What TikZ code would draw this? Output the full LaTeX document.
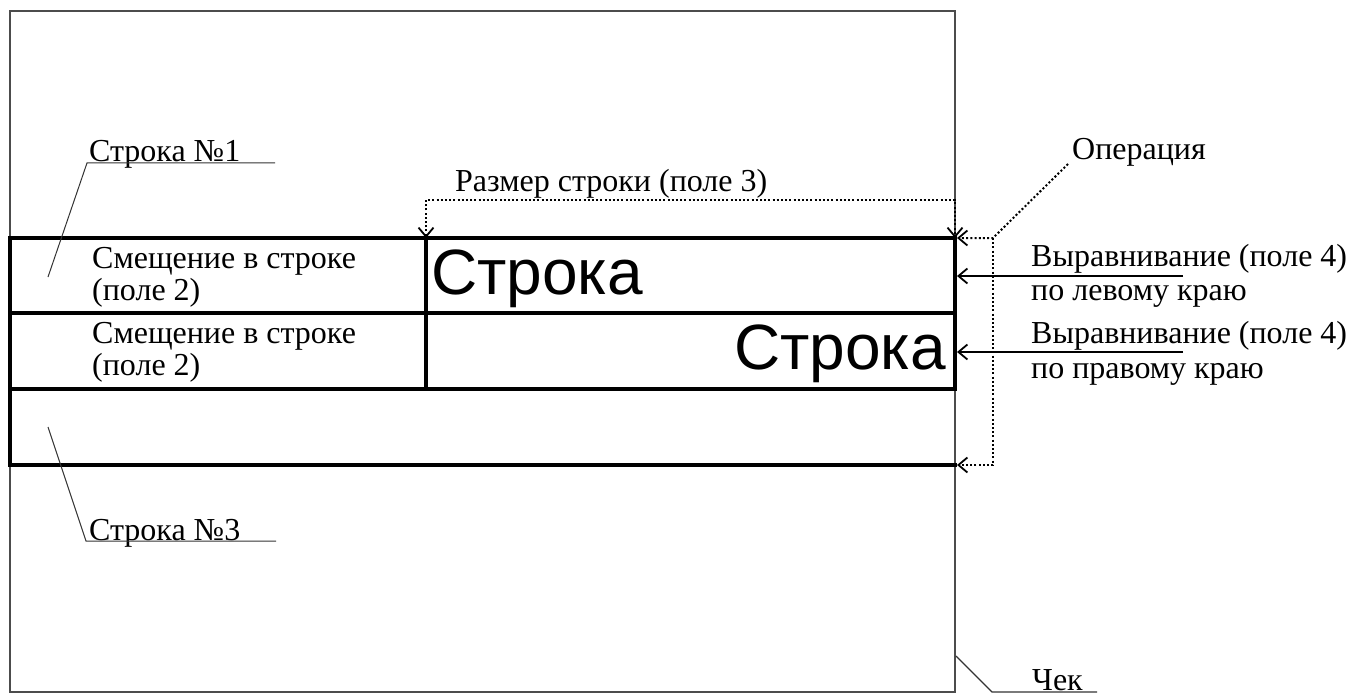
\documentclass[tikz,border=0pt]{standalone}
\usepackage{fontspec}
\setmainfont{Liberation Serif}
\newfontfamily\arialf{Liberation Sans}
\usetikzlibrary{arrows.meta}
\begin{document}
\begin{tikzpicture}[x=1pt,y=-1pt,
  lbl/.style={inner sep=0pt,anchor=base west,font=\fontsize{32}{36}\selectfont},
  big/.style={inner sep=0pt,font=\arialf\fontsize{64}{72}\selectfont},
  outer/.style={draw=black!70,line width=1.5pt},
  heavy/.style={line width=3.8pt,line cap=rect},
  leader/.style={draw=black!80,line width=1pt},
  barb/.style={-{Straight Barb[length=9pt,width=15pt,line width=1.8pt]}},
  barbs/.style={{Straight Barb[length=9pt,width=15pt,line width=1.8pt]}-{Straight Barb[length=9pt,width=15pt,line width=1.8pt]}},
  dotline/.style={line width=2pt,dash pattern=on 2pt off 2.2pt},
  arrline/.style={line width=2pt}]
\useasboundingbox (0,0) rectangle (1348,695);

% outer receipt frame
\draw[outer] (10,11) rectangle (955,692);

% rows
\draw[heavy] (10,238) -- (955,238);
\draw[heavy] (10,313) -- (955,313);
\draw[heavy] (10,389) -- (955,389);
\draw[heavy] (10,465) -- (955,465);
\draw[heavy] (10,238) -- (10,465);
\draw[heavy] (426,238) -- (426,389);
\draw[heavy] (955,238) -- (955,389);

% texts
\node[lbl] (s1) at (89,162) {Строка №1};
\node[lbl] (sm1a) at (92,268) {Смещение в строке};
\node[lbl] (sm1b) at (92,300) {(поле 2)};
\node[lbl] (sm2a) at (92,343) {Смещение в строке};
\node[lbl] (sm2b) at (92,375) {(поле 2)};
\node[big,anchor=base west] (str1) at (431,294) {Строка};
\node[big,anchor=base east] (str2) at (946,369) {Строка};
\node[lbl] (razm) at (455,192) {Размер строки (поле 3)};
\node[lbl] (oper) at (1072,160) {Операция};
\node[lbl] (vl1) at (1031,266) {Выравнивание (поле 4)};
\node[lbl] (vl2) at (1031,300) {по левому краю};
\node[lbl] (vr1) at (1031,343) {Выравнивание (поле 4)};
\node[lbl] (vr2) at (1031,378) {по правому краю};
\node[lbl] (s3) at (89,540) {Строка №3};
\node[lbl] (chek) at (1032,690) {Чек};

% leaders
\coordinate (s1p) at (48,277);
\coordinate (s1k) at (87,163);
\coordinate (s1e) at (275,163);
\draw[leader] (s1p) -- (s1k) -- (s1e);
\coordinate (s3p) at (48,427);
\coordinate (s3k) at (86,541);
\coordinate (s3e) at (276,541);
\draw[leader] (s3p) -- (s3k) -- (s3e);
\coordinate (chp) at (956,656);
\coordinate (chk) at (992,692);
\coordinate (che) at (1097,692);
\draw[leader,line width=1.3pt] (chp) -- (chk) -- (che);

% size bracket
\coordinate (rzL) at (426,238);
\coordinate (rzR) at (955,238);
\draw[dotline,barbs] (rzL) -- (426,200) -- (955,200) -- (rzR);

% operation bracket
\coordinate (opS) at (1068,164);
\coordinate (opK) at (993,238);
\coordinate (opB) at (993,465);
\coordinate (opT1) at (957,238);
\coordinate (opT2) at (957,465);
\draw[dotline,barb] (opS) -- (opK) -- (opT1);
\draw[dotline,barb] (opK) -- (opB) -- (opT2);

% alignment arrows
\coordinate (al1) at (1183,276);
\coordinate (al1t) at (957,276);
\coordinate (al2) at (1183,352);
\coordinate (al2t) at (957,352);
\draw[arrline,barb] (al1) -- (al1t);
\draw[arrline,barb] (al2) -- (al2t);
\end{tikzpicture}
\end{document}
